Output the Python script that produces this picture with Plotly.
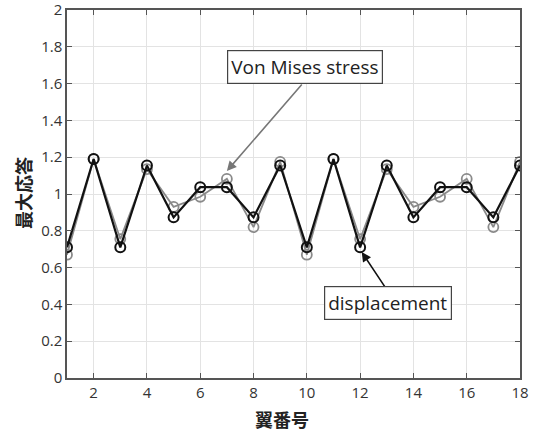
import plotly.graph_objects as go

wing_no = list(range(1, 19))
displacement = [0.71, 1.19, 0.71, 1.155, 0.873, 1.037, 1.037, 0.873, 1.155,
                0.71, 1.19, 0.71, 1.155, 0.873, 1.037, 1.037, 0.873, 1.155]
von_mises = [0.67, 1.19, 0.755, 1.135, 0.93, 0.985, 1.082, 0.82, 1.175,
             0.67, 1.19, 0.755, 1.135, 0.93, 0.985, 1.082, 0.82, 1.175]
x_ticks = [2, 4, 6, 8, 10, 12, 14, 16, 18]
y_ticks = [0, 0.2, 0.4, 0.6, 0.8, 1, 1.2, 1.4, 1.6, 1.8, 2]
y_tick_text = ["0", "0.2", "0.4", "0.6", "0.8", "1", "1.2", "1.4", "1.6", "1.8", "2"]
x_title = "翼番号"
y_title = "最大応答"

fig = go.Figure()
fig.add_trace(go.Scatter(
    x=wing_no, y=von_mises, mode="lines+markers", name="Von Mises stress",
    line=dict(color="#8a8a8a", width=1.8),
    marker=dict(symbol="circle-open", size=10, color="#8a8a8a", line=dict(width=1.8)),
))
fig.add_trace(go.Scatter(
    x=wing_no, y=displacement, mode="lines+markers", name="displacement",
    line=dict(color="#111111", width=2.2),
    marker=dict(symbol="circle-open", size=10, color="#111111", line=dict(width=2)),
))

tick_font = dict(family="Open Sans, Lato, sans-serif", size=15, color="#333333")
title_font = dict(family="Noto Sans CJK JP", size=18, color="#222222")

fig.update_xaxes(
    range=[1, 18], tickmode="array", tickvals=x_ticks,
    showgrid=True, gridcolor="#e3e3e3", gridwidth=1,
    showline=True, linecolor="#555555", linewidth=1.5, mirror="ticks",
    ticks="inside", ticklen=5, tickcolor="#555555",
    tickfont=tick_font, zeroline=False, ticklabeloverflow="allow",
)
fig.update_yaxes(
    range=[0, 2], tickmode="array", tickvals=y_ticks, ticktext=y_tick_text,
    showgrid=True, gridcolor="#e3e3e3", gridwidth=1,
    showline=True, linecolor="#555555", linewidth=1.5, mirror="ticks",
    ticks="inside", ticklen=5, tickcolor="#555555",
    tickfont=tick_font, zeroline=False, ticklabeloverflow="allow",
)

# axis titles
fig.add_annotation(x=0.475, y=-0.112, xref="paper", yref="paper",
                   xanchor="center", yanchor="middle",
                   text="<b>" + x_title + "</b>", showarrow=False, font=title_font)
fig.add_annotation(x=-0.097, y=0.503, xref="paper", yref="paper",
                   xanchor="center", yanchor="middle",
                   text="<b>" + y_title + "</b>", showarrow=False, font=title_font,
                   textangle=-90)

ann_font = dict(family="Open Sans, Lato, sans-serif", size=19, color="#222222")
# arrows (text-less)
fig.add_annotation(x=7.0, y=1.125, ax=9.86, ay=1.603, axref="x", ayref="y",
                   text="", showarrow=True, arrowhead=2, arrowsize=1.2,
                   arrowwidth=1.6, arrowcolor="#777777", standoff=0)
fig.add_annotation(x=12.06, y=0.685, ax=13.0, ay=0.48, axref="x", ayref="y",
                   text="", showarrow=True, arrowhead=2, arrowsize=1.2,
                   arrowwidth=1.6, arrowcolor="#111111", standoff=0)
# text boxes
fig.add_annotation(x=9.94, y=1.69, text="Von Mises stress", showarrow=False,
                   font=ann_font, bgcolor="white", bordercolor="#444444",
                   borderwidth=1.2, borderpad=3)
fig.add_annotation(x=13.05, y=0.405, text="displacement", showarrow=False,
                   font=ann_font, bgcolor="white", bordercolor="#444444",
                   borderwidth=1.2, borderpad=3)

fig.update_layout(
    width=538, height=433,
    margin=dict(l=67, r=18, t=10, b=55, autoexpand=False),
    plot_bgcolor="white", paper_bgcolor="white",
    showlegend=False,
)
fig.write_html("out.html", config={"displayModeBar": False},
               post_script="document.body.style.margin='0';")
